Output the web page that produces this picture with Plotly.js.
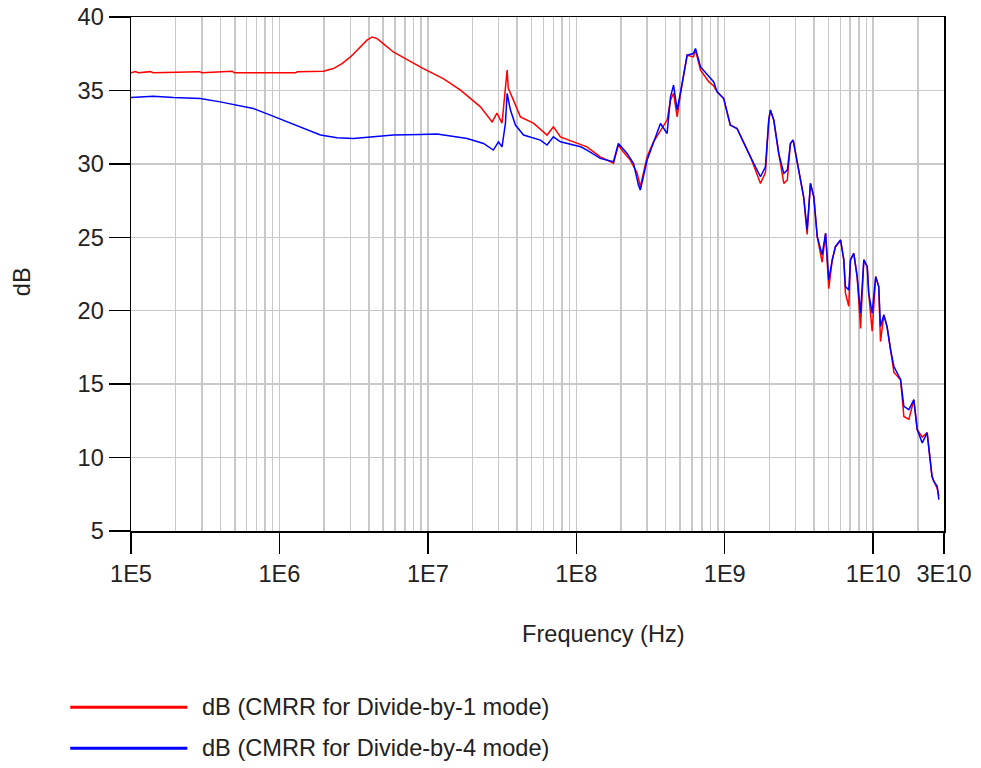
<!DOCTYPE html>
<html>
<head>
<meta charset="utf-8">
<script src="https://cdn.plot.ly/plotly-3.0.1.min.js"></script>
<style>html,body{margin:0;padding:0;background:#fff;}#chart{width:981px;height:768px;}</style>
</head>
<body>
<div id="chart"></div>
<script>
// ---- Data ----
const redFreq = [
  1.00e5, 1.07e5, 1.12e5, 1.35e5, 1.41e5, 2.88e5, 3.02e5, 4.79e5, 5.01e5, 1.28e6,
  1.32e6, 1.98e6, 2.31e6, 2.64e6, 3.01e6, 3.40e6, 3.89e6, 4.21e6, 4.55e6, 5.01e6,
  5.85e6, 7.05e6, 8.89e6, 9.33e6, 1.27e7, 1.66e7, 2.26e7, 2.71e7, 2.92e7, 3.16e7,
  3.42e7, 3.48e7, 3.77e7, 4.20e7, 5.14e7, 6.35e7, 7.01e7, 7.82e7, 9.57e7, 1.18e8,
  1.45e8, 1.78e8, 1.92e8, 2.07e8, 2.31e8, 2.57e8, 2.70e8, 3.00e8, 3.31e8, 3.69e8,
  4.09e8, 4.31e8, 4.52e8, 4.78e8, 5.04e8, 5.58e8, 6.15e8, 6.35e8, 6.87e8,
  7.80e8, 8.43e8, 8.89e8, 9.84e8, 1.09e9, 1.21e9, 1.49e9, 1.65e9, 1.74e9, 1.88e9,
  1.98e9, 2.03e9, 2.14e9, 2.31e9, 2.50e9, 2.64e9, 2.77e9, 2.89e9, 3.08e9, 3.40e9,
  3.59e9, 3.78e9, 3.98e9, 4.20e9, 4.53e9, 4.78e9, 5.02e9, 5.30e9, 5.57e9, 6.03e9,
  6.34e9, 6.50e9, 6.85e9, 7.03e9, 7.40e9, 7.80e9, 8.22e9, 8.65e9, 9.12e9, 9.33e9,
  9.84e9, 1.04e10, 1.09e10, 1.12e10, 1.18e10, 1.24e10, 1.31e10, 1.38e10, 1.53e10, 1.61e10,
  1.74e10, 1.88e10, 1.98e10, 2.14e10, 2.31e10, 2.43e10, 2.49e10, 2.56e10, 2.70e10, 2.77e10
];
const redDb = [
  36.21, 36.28, 36.20, 36.28, 36.20, 36.28, 36.20, 36.30, 36.20, 36.20,
  36.27, 36.31, 36.49, 36.83, 37.28, 37.85, 38.42, 38.64, 38.53, 38.19,
  37.62, 37.17, 36.60, 36.49, 35.81, 35.02, 33.88, 32.86, 33.45, 32.77,
  36.38, 35.15, 34.34, 33.20, 32.77, 31.96, 32.52, 31.84, 31.50, 31.16,
  30.48, 30.05, 31.28, 30.82, 30.26, 29.37, 28.44, 30.48, 31.50, 32.30,
  32.98, 34.34, 34.81, 33.20, 34.81, 37.40, 37.28, 37.74, 36.38,
  35.60, 35.30, 34.90, 34.45, 32.64, 32.41, 30.48, 29.30, 28.67, 29.40,
  32.98, 33.66, 32.98, 30.71, 28.67, 28.90, 31.39, 31.62, 30.03, 27.76,
  25.20, 28.67, 27.76, 25.04, 23.30, 25.27, 21.50, 23.46, 24.36, 24.82,
  23.46, 21.20, 20.30, 23.46, 23.91, 22.32, 18.80, 23.46, 23.00, 21.20,
  18.60, 22.32, 21.64, 17.90, 19.72, 18.92, 17.34, 15.80, 15.30, 12.80,
  12.60, 13.94, 11.90, 11.40, 11.70, 9.41, 8.73, 8.39, 7.90, 7.40
];
const blueFreq = [
  1.00e5, 1.16e5, 1.41e5, 1.93e5, 2.93e5, 3.99e5, 5.18e5, 6.67e5, 8.69e5, 1.12e6,
  1.45e6, 1.89e6, 2.44e6, 3.15e6, 4.30e6, 5.85e6, 8.89e6, 1.15e7, 1.42e7, 1.84e7,
  2.37e7, 2.76e7, 2.99e7, 3.16e7, 3.33e7, 3.42e7, 3.60e7, 3.89e7, 4.41e7, 5.73e7,
  6.35e7, 7.01e7, 7.82e7, 1.07e8, 1.18e8, 1.45e8, 1.78e8, 1.92e8, 2.20e8, 2.43e8,
  2.62e8, 2.70e8, 3.00e8, 3.31e8, 3.69e8, 4.09e8, 4.31e8, 4.52e8, 4.78e8, 5.16e8,
  5.58e8, 6.15e8, 6.35e8, 6.87e8,
  7.80e8, 8.43e8, 8.89e8, 9.84e8, 1.09e9, 1.21e9, 1.49e9, 1.65e9, 1.74e9, 1.88e9,
  1.98e9, 2.03e9, 2.14e9, 2.31e9, 2.50e9, 2.64e9, 2.77e9, 2.89e9, 3.08e9, 3.40e9,
  3.59e9, 3.78e9, 3.98e9, 4.20e9, 4.53e9, 4.78e9, 5.02e9, 5.30e9, 5.57e9, 6.03e9,
  6.34e9, 6.50e9, 6.85e9, 7.03e9, 7.40e9, 7.80e9, 8.22e9, 8.65e9, 9.12e9, 9.33e9,
  9.84e9, 1.04e10, 1.09e10, 1.12e10, 1.18e10, 1.24e10, 1.31e10, 1.38e10, 1.53e10, 1.61e10,
  1.74e10, 1.88e10, 1.98e10, 2.14e10, 2.31e10, 2.43e10, 2.49e10, 2.56e10, 2.70e10, 2.77e10
];
const blueDb = [
  34.52, 34.57, 34.61, 34.52, 34.45, 34.22, 34.00, 33.77, 33.32, 32.86,
  32.41, 31.96, 31.77, 31.73, 31.84, 31.96, 32.00, 32.03, 31.89, 31.73,
  31.39, 30.94, 31.50, 31.16, 32.75, 34.79, 33.66, 32.64, 31.96, 31.62,
  31.28, 31.84, 31.50, 31.16, 30.94, 30.37, 30.14, 31.39, 30.71, 30.03,
  28.56, 28.22, 30.26, 31.39, 32.75, 32.07, 34.56, 35.36, 33.66, 35.47,
  37.40, 37.51, 37.85, 36.60,
  35.92, 35.58, 34.90, 34.45, 32.64, 32.41, 30.48, 29.58, 29.12, 29.80,
  32.98, 33.66, 32.98, 30.71, 29.35, 29.58, 31.39, 31.62, 30.03, 27.76,
  25.50, 28.67, 27.76, 25.04, 23.80, 25.27, 22.10, 23.46, 24.36, 24.82,
  23.46, 21.64, 21.42, 23.46, 23.91, 22.32, 19.84, 23.46, 23.00, 21.20,
  19.84, 22.32, 21.64, 18.92, 19.72, 18.92, 17.34, 16.20, 15.30, 13.49,
  13.26, 13.94, 11.90, 11.00, 11.68, 9.41, 8.73, 8.39, 8.05, 7.14
];
const xTickVals = [1e5, 1e6, 1e7, 1e8, 1e9, 1e10, 3e10];
const xTickText = ["1E5", "1E6", "1E7", "1E8", "1E9", "1E10", "3E10"];
const seriesNames = ["dB (CMRR for Divide-by-1 mode)", "dB (CMRR for Divide-by-4 mode)"];
const seriesColors = ["#ff0000", "#0000ff"];

// minor gridlines at 2..9 of each decade (axis furniture)
const minorVals = [];
for (let d = 5; d <= 10; d++) {
  for (let m = 2; m <= 9; m++) {
    const v = m * Math.pow(10, d);
    if (v < 3e10) minorVals.push(v);
  }
}

const FONT = "'Liberation Sans', Arial, sans-serif";
const TXT = "#222222";
const FS = 23.6;

const traces = [
  {x: redFreq, y: redDb, type: "scatter", mode: "lines", name: seriesNames[0],
   line: {color: seriesColors[0], width: 1.5}, showlegend: false},
  {x: blueFreq, y: blueDb, type: "scatter", mode: "lines", name: seriesNames[1],
   line: {color: seriesColors[1], width: 1.5}, showlegend: false}
];

// legend geometry in paper coordinates
const legX0 = -0.0747, legX1 = 0.0693, legTextX = 0.0845;
const legY = [-0.3429, -0.4225];

const layout = {
  width: 981, height: 768,
  margin: {l: 131, r: 37, t: 17, b: 237},
  paper_bgcolor: "#ffffff", plot_bgcolor: "#ffffff",
  font: {family: FONT, size: FS, color: TXT},
  showlegend: false,
  xaxis: {
    type: "log",
    range: [5, Math.log10(3e10)],
    tickmode: "array", tickvals: xTickVals, ticktext: xTickText,
    ticks: "outside", ticklen: 21, tickwidth: 1.5, tickcolor: "#000",
    showline: true, linecolor: "#000", linewidth: 1.5, mirror: true,
    showgrid: true, gridcolor: "#c8c8c8", gridwidth: 1.5,
    zeroline: false,
    tickfont: {family: FONT, size: FS, color: TXT},
    minor: {tickmode: "array", tickvals: minorVals, showgrid: true,
            gridcolor: "#c8c8c8", gridwidth: 1.5, ticks: ""}
  },
  yaxis: {
    range: [5, 40], tickmode: "linear", tick0: 5, dtick: 5,
    ticks: "outside", ticklen: 21, tickwidth: 1.5, tickcolor: "#000",
    showline: true, linecolor: "#000", linewidth: 1.5, mirror: true,
    showgrid: true, gridcolor: "#c8c8c8", gridwidth: 1.5,
    zeroline: false,
    tickfont: {family: FONT, size: FS, color: TXT}
  },
  shapes: [
    {type: "line", xref: "paper", yref: "paper", x0: legX0, x1: legX1, y0: legY[0], y1: legY[0],
     line: {color: seriesColors[0], width: 3}},
    {type: "line", xref: "paper", yref: "paper", x0: legX0, x1: legX1, y0: legY[1], y1: legY[1],
     line: {color: seriesColors[1], width: 3}}
  ],
  annotations: [
    {text: "Frequency (Hz)", xref: "paper", yref: "paper", x: 0.581, y: -0.201,
     xanchor: "center", yanchor: "middle", showarrow: false,
     font: {family: FONT, size: FS, color: TXT}},
    {text: "dB", xref: "paper", yref: "paper", x: -0.1337, y: 0.4847,
     xanchor: "center", yanchor: "middle", showarrow: false, textangle: -90,
     font: {family: FONT, size: FS, color: TXT}},
    {text: seriesNames[0], xref: "paper", yref: "paper", x: legTextX, y: legY[0],
     xanchor: "left", yanchor: "middle", showarrow: false,
     font: {family: FONT, size: FS, color: TXT}},
    {text: seriesNames[1], xref: "paper", yref: "paper", x: legTextX, y: legY[1],
     xanchor: "left", yanchor: "middle", showarrow: false,
     font: {family: FONT, size: FS, color: TXT}}
  ]
};

Plotly.newPlot("chart", traces, layout, {staticPlot: true, displayModeBar: false});
</script>
</body>
</html>
